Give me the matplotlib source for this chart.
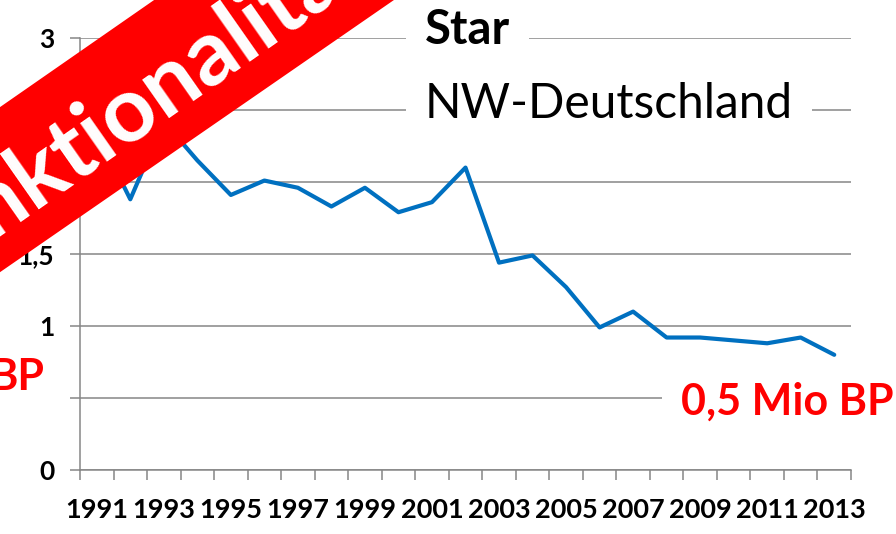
"""Star breeding pairs, NW Germany, 1991-2013 (Mio BP)."""

import matplotlib
matplotlib.use("Agg")
import matplotlib.pyplot as plt
from matplotlib.patches import Polygon
from matplotlib.ticker import FixedLocator, FuncFormatter

YEARS = list(range(1991, 2014))
PAIRS_MIO = [2.35, 1.88, 2.42, 2.15, 1.91, 2.01, 1.96, 1.83, 1.96, 1.79, 1.86, 2.10,
             1.44, 1.49, 1.27, 0.99, 1.10, 0.92, 0.92, 0.90, 0.88, 0.92, 0.80]
Y_TICKS = [0, 0.5, 1, 1.5, 2, 2.5, 3]

GRAY = "#868686"
BLUE = "#0070C0"
RED = "#FF0000"
W, H = 896, 534

plt.rcParams["font.family"] = ["Lato", "DejaVu Sans"]


def px(x, y):
    """pixel (from top-left) -> figure fraction"""
    return x / W, 1 - y / H


fig = plt.figure(figsize=(W / 100, H / 100), dpi=100)
l, t = px(80, 38)
r, b = px(851, 470)
ax = fig.add_axes([l, b, r - l, t - b])

pos = list(range(len(YEARS)))
ax.plot(pos, PAIRS_MIO, color=BLUE, lw=3.0, solid_joinstyle="round",
        solid_capstyle="round", zorder=3)

ax.set_xlim(-0.5, len(YEARS) - 0.5)
ax.set_ylim(0, 3)
ax.yaxis.set_major_locator(FixedLocator(Y_TICKS))
ax.yaxis.set_major_formatter(FuncFormatter(lambda v, _: f"{v:g}".replace(".", ",")))
ax.grid(axis="y", color=GRAY, lw=1.1)
ax.set_axisbelow(True)

# category axis: ticks between categories, labels every other year
ax.xaxis.set_major_locator(FixedLocator([p - 0.5 for p in pos] + [pos[-1] + 0.5]))
ax.xaxis.set_major_formatter(FuncFormatter(lambda v, _: ""))
ax.xaxis.set_minor_locator(FixedLocator(pos[::2]))
ax.set_xticklabels([str(y) for y in YEARS[::2]], minor=True)
ax.tick_params(axis="x", which="major", length=7.5, width=1.1, color=GRAY)
ax.tick_params(axis="x", which="minor", length=0, pad=20, labelsize=19.5)
ax.tick_params(axis="y", length=7.5, width=1.1, color=GRAY, pad=11, labelsize=19)
for lab in ax.get_xticklabels(minor=True) + ax.get_yticklabels():
    lab.set_fontweight("bold")

for side in ("top", "right"):
    ax.spines[side].set_visible(False)
for side in ("left", "bottom"):
    ax.spines[side].set_color(GRAY)
    ax.spines[side].set_linewidth(1.1)

# title boxes
fig.text(*px(425, 44), "Star", fontsize=34, fontweight="bold", ha="left",
         va="baseline", bbox=dict(boxstyle="square,pad=0.4", fc="white", ec="none"))
fig.text(*px(425, 118), "NW-Deutschland", fontsize=34.5, ha="left", va="baseline",
         bbox=dict(boxstyle="square,pad=0.4", fc="white", ec="none"))

# red annotations
fig.text(*px(681, 415), "0,5 Mio BP", fontsize=31, fontweight="bold", color=RED,
         ha="left", va="baseline",
         bbox=dict(boxstyle="square,pad=0.45", fc="white", ec="none"))
fig.text(*px(44, 390), "BP", fontsize=31, fontweight="bold", color=RED,
         ha="right", va="baseline",
         bbox=dict(boxstyle="square,pad=0.4", fc="white", ec="none"))

# diagonal banner
corners = [(-20, 121), (180, -18), (420, -18), (-20, 286)]
banner = Polygon([px(x, y) for x, y in corners], closed=True, fc=RED, ec="none",
                 transform=fig.transFigure, zorder=10)
fig.patches.append(banner)
fig.text(*px(141, 132), "Funktionalität", fontsize=66, fontweight="bold",
         color="white", rotation=35, rotation_mode="anchor", ha="center",
         va="baseline", zorder=11)

fig.savefig("out.png", dpi=100)
